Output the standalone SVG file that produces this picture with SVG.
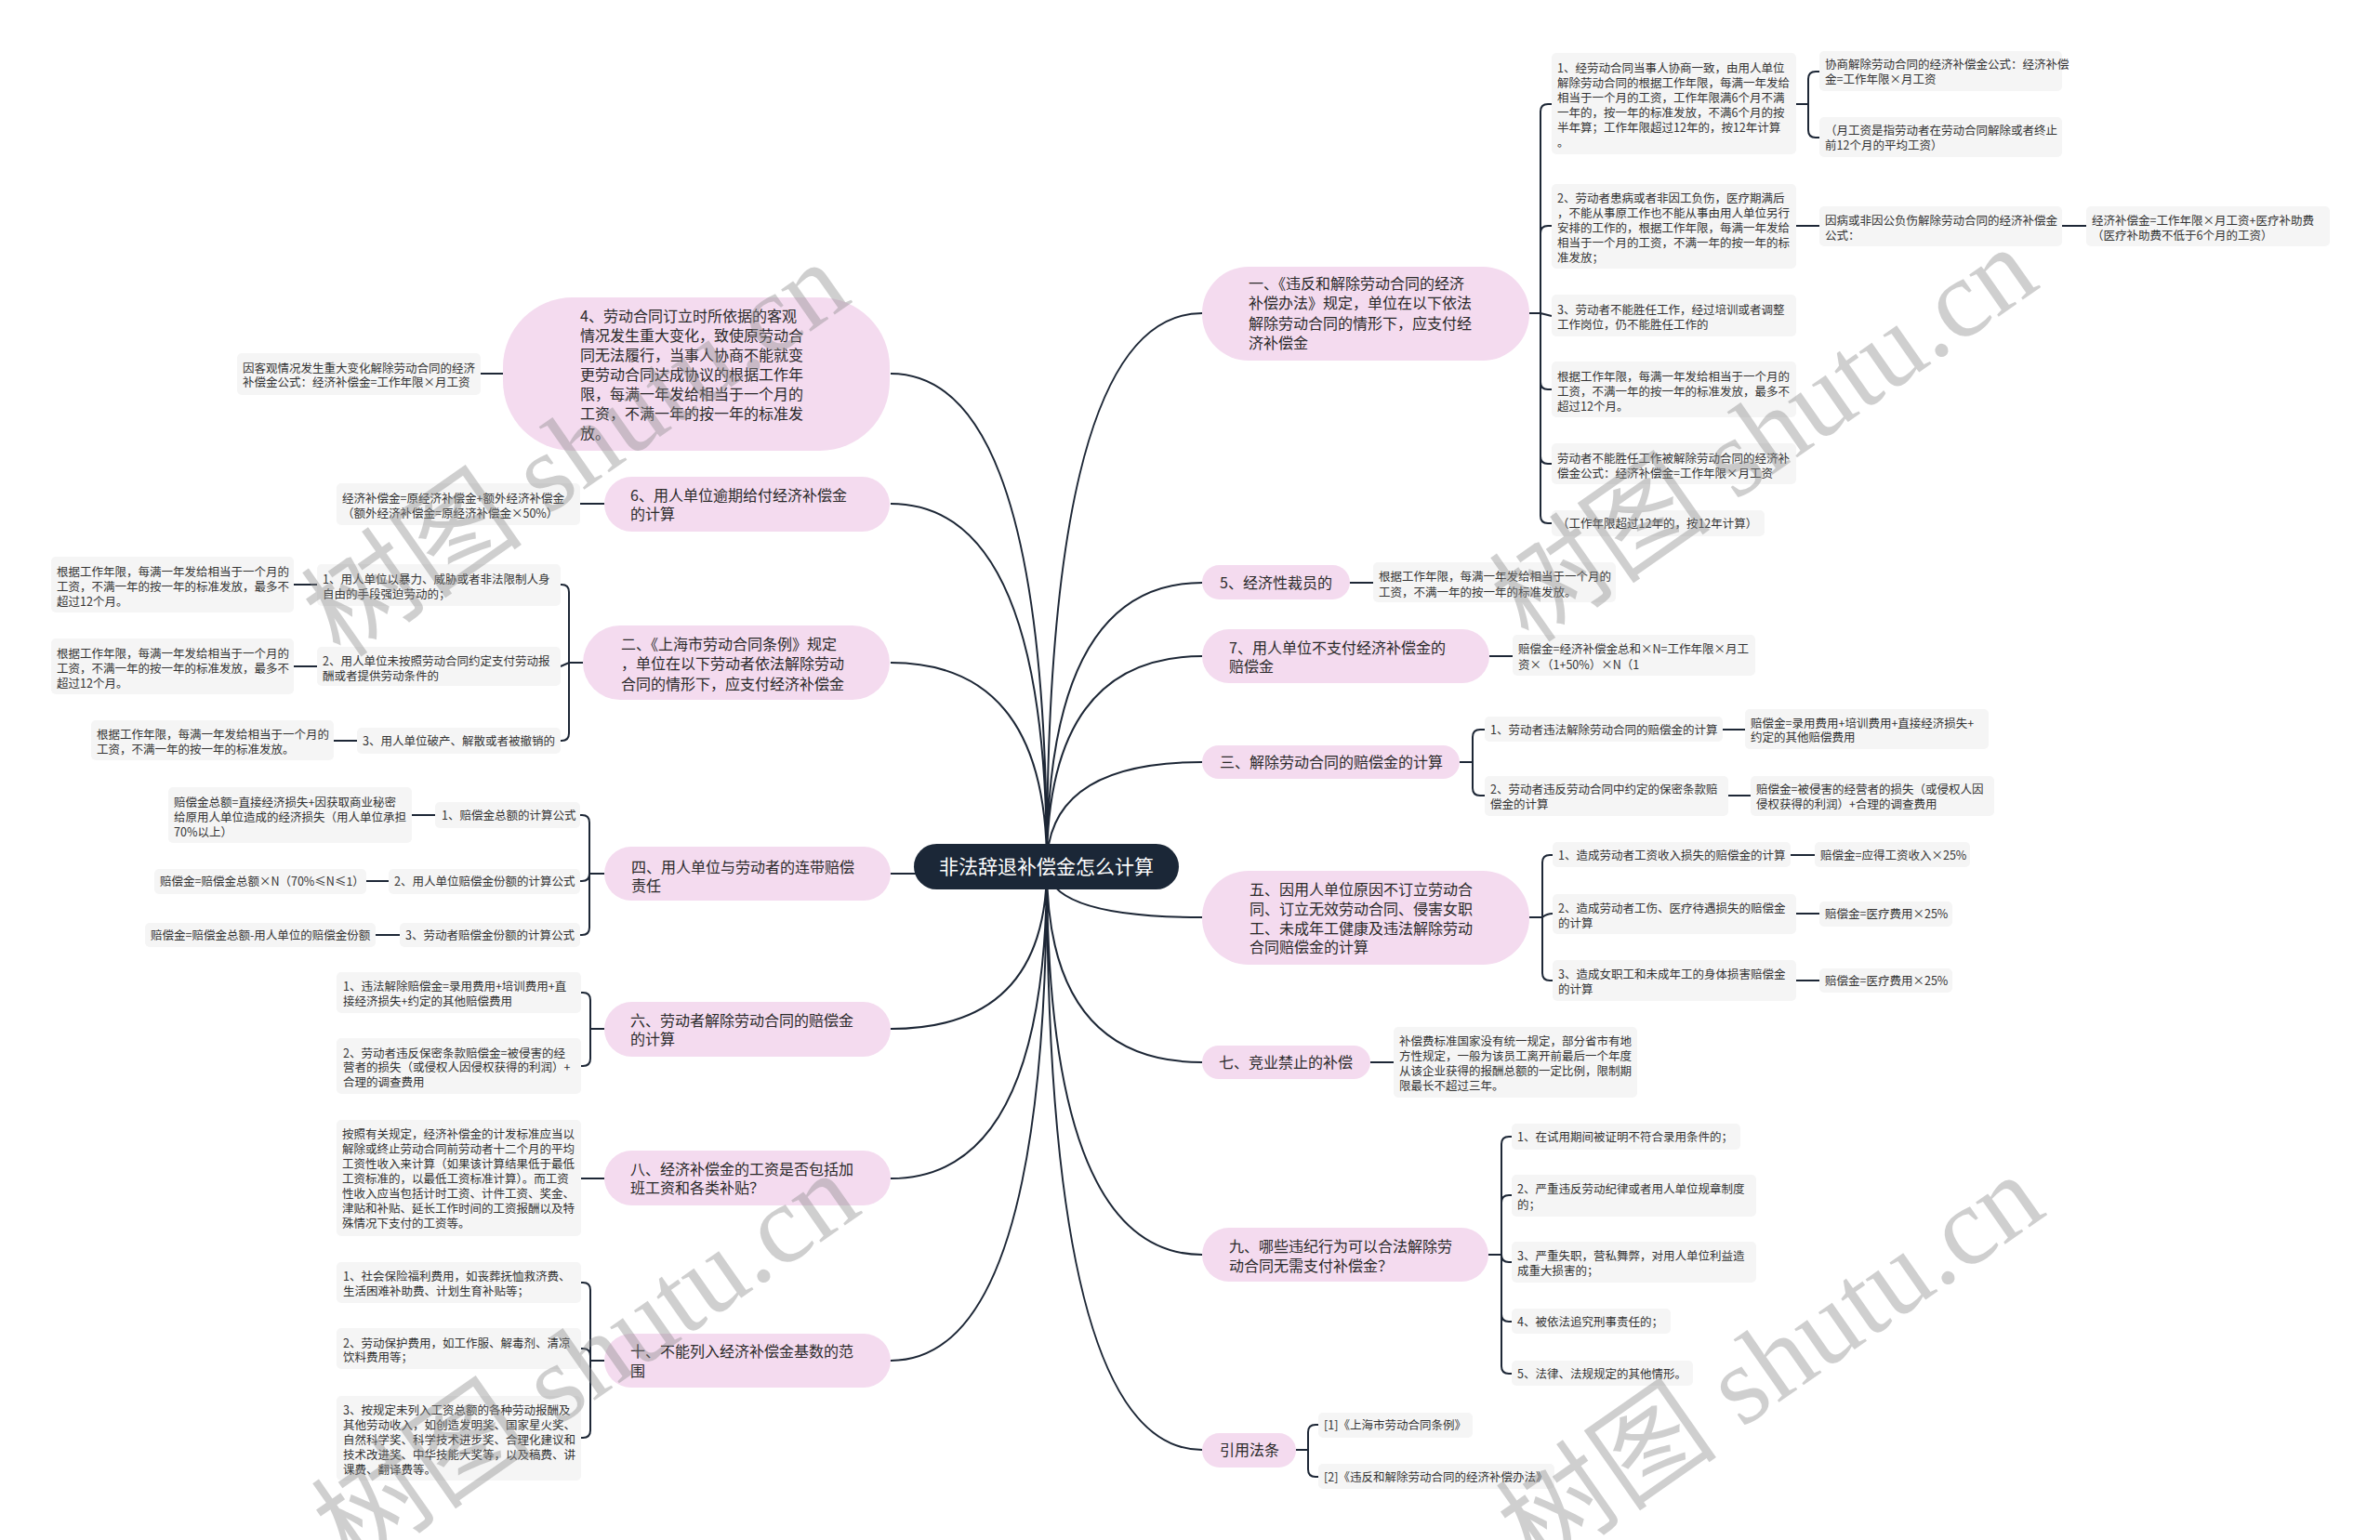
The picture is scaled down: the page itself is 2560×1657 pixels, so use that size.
<svg xmlns="http://www.w3.org/2000/svg" width="2560" height="1657" viewBox="0 0 2560 1657">
<style>
text{font-family:"Noto Sans CJK SC","Noto Sans",sans-serif;fill:#333}
.mn{fill:#f4dbef}
.lf{fill:#f5f5f5}
.t1{font-size:16px;fill:#2a2a2a}
.t2{font-size:12.5px}
.ln{fill:none;stroke:#1d2736;stroke-width:2}
.wm{font-family:"Liberation Serif","Noto Sans CJK SC",serif;font-size:120px;fill:#8a8a8a;opacity:0.4}
</style>
<rect width="2560" height="1657" fill="#ffffff"/>
<g id="connectors" class="ln">
<path d="M1126 932Q1126 337 1293 337M1126 932Q1126 627 1293 627M1126 932Q1126 706 1293 706M1126 932Q1126 820 1293 820M1126 932Q1126 987 1293 987M1126 932Q1126 1143 1293 1143M1126 932Q1126 1350 1293 1350M1126 932Q1126 1560 1293 1560"/>
<path d="M1126 932Q1126 402 958 402M1126 932Q1126 542 958 542M1126 932Q1126 713 958 713M1126 932Q1126 940 958 940M1126 932Q1126 1107 958 1107M1126 932Q1126 1268 958 1268M1126 932Q1126 1464 958 1464"/>
<path d="M1645 337H1657V120Q1657 112 1665 112H1669M1645 337H1657V251Q1657 243 1665 243H1669M1645 337H1657L1669 340M1645 337H1657V411Q1657 419 1665 419H1669M1645 337H1657V491Q1657 499 1665 499H1669M1645 337H1657V555Q1657 563 1665 563H1669"/>
<path d="M1932 112H1945V85Q1945 77 1953 77H1957M1932 112H1945V140Q1945 148 1953 148H1957M1932 243H1957M2218 243H2244M1452 627H1477M1602 706H1627"/>
<path d="M1570 820H1584V793Q1584 785 1592 785H1597M1570 820H1584V848Q1584 856 1592 856H1597M1853 785H1877M1859 856H1883"/>
<path d="M1645 987H1659V928Q1659 920 1667 920H1670M1645 987H1659Q1664 983 1670 983M1645 987H1659V1047Q1659 1055 1667 1055H1670M1926 920H1952M1932 983H1957M1932 1055H1957"/>
<path d="M1474 1143H1499"/>
<path d="M1601 1350H1615V1231Q1615 1223 1623 1223H1626M1601 1350H1615V1294Q1615 1286 1623 1286H1626M1601 1350H1615Q1615 1358 1623 1358H1626M1601 1350H1615V1414Q1615 1422 1623 1422H1626M1601 1350H1615V1470Q1615 1478 1623 1478H1626"/>
<path d="M1394 1560H1407V1541Q1407 1533 1415 1533H1418M1394 1560H1407V1581Q1407 1589 1415 1589H1418"/>
<path d="M541 402H517M650 542H624"/>
<path d="M627 713H612V637Q612 629 604 629H603M627 713H612L603 717M627 713H612V789Q612 797 604 797H603M341 629H316M341 717H316M384 797H359"/>
<path d="M650 940H634V885Q634 877 626 877H624M650 940H634Q634 948 626 948H624M650 940H634V998Q634 1006 626 1006H624M468 877H443M418 948H394M430 1006H404"/>
<path d="M650 1107H635V1076Q635 1068 627 1068H625M650 1107H635V1139Q635 1147 627 1147H625M650 1268H625"/>
<path d="M650 1464H635V1388Q635 1380 627 1380H625M650 1464H635V1459Q635 1451 627 1451H625M650 1464H635V1539Q635 1547 627 1547H625"/>
</g>

<g id="root">
<rect x="983" y="908" width="285" height="49" rx="24.5" fill="#1b2737"/>
<text x="1125.5" y="940" text-anchor="middle" style="font-size:21px;fill:#ffffff">非法辞退补偿金怎么计算</text>
</g>

<g id="n1">
<rect class="mn" x="1293" y="287" width="352" height="101" rx="50"/>
<text class="t1"><tspan x="1343" y="310.5">一、《违反和解除劳动合同的经济</tspan><tspan x="1343" y="332">补偿办法》规定，单位在以下依法</tspan><tspan x="1343" y="353.5">解除劳动合同的情形下，应支付经</tspan><tspan x="1343" y="375">济补偿金</tspan></text>
</g>
<g id="n1-1">
<rect class="lf" x="1669" y="57" width="263" height="109" rx="5"/>
<text class="t2"><tspan x="1675" y="78">1、经劳动合同当事人协商一致，由用人单位</tspan><tspan x="1675" y="94">解除劳动合同的根据工作年限，每满一年发给</tspan><tspan x="1675" y="110">相当于一个月的工资，工作年限满6个月不满</tspan><tspan x="1675" y="126">一年的，按一年的标准发放，不满6个月的按</tspan><tspan x="1675" y="142">半年算；工作年限超过12年的，按12年计算</tspan><tspan x="1675" y="158">。</tspan></text>
</g>
<g id="n1-1a">
<rect class="lf" x="1957" y="55" width="261" height="43" rx="5"/>
<text class="t2"><tspan x="1963" y="74">协商解除劳动合同的经济补偿金公式：经济补偿</tspan><tspan x="1963" y="90">金=工作年限×月工资</tspan></text>
</g>
<g id="n1-1b">
<rect class="lf" x="1957" y="126" width="261" height="43" rx="5"/>
<text class="t2"><tspan x="1963" y="145">（月工资是指劳动者在劳动合同解除或者终止</tspan><tspan x="1963" y="161">前12个月的平均工资）</tspan></text>
</g>
<g id="n1-2">
<rect class="lf" x="1669" y="198" width="263" height="91" rx="5"/>
<text class="t2"><tspan x="1675" y="218">2、劳动者患病或者非因工负伤，医疗期满后</tspan><tspan x="1675" y="234">，不能从事原工作也不能从事由用人单位另行</tspan><tspan x="1675" y="250">安排的工作的，根据工作年限，每满一年发给</tspan><tspan x="1675" y="266">相当于一个月的工资，不满一年的按一年的标</tspan><tspan x="1675" y="282">准发放；</tspan></text>
</g>
<g id="n1-2a">
<rect class="lf" x="1957" y="222" width="261" height="43" rx="5"/>
<text class="t2"><tspan x="1963" y="241.5">因病或非因公负伤解除劳动合同的经济补偿金</tspan><tspan x="1963" y="257.5">公式：</tspan></text>
</g>
<g id="n1-2b">
<rect class="lf" x="2244" y="222" width="262" height="43" rx="5"/>
<text class="t2"><tspan x="2250" y="241.5">经济补偿金=工作年限×月工资+医疗补助费</tspan><tspan x="2250" y="257.5">（医疗补助费不低于6个月的工资）</tspan></text>
</g>
<g id="n1-3">
<rect class="lf" x="1669" y="317" width="263" height="45" rx="5"/>
<text class="t2"><tspan x="1675" y="337.5">3、劳动者不能胜任工作，经过培训或者调整</tspan><tspan x="1675" y="353.5">工作岗位，仍不能胜任工作的</tspan></text>
</g>
<g id="n1-4">
<rect class="lf" x="1669" y="389" width="263" height="60" rx="5"/>
<text class="t2"><tspan x="1675" y="410">根据工作年限，每满一年发给相当于一个月的</tspan><tspan x="1675" y="426">工资，不满一年的按一年的标准发放，最多不</tspan><tspan x="1675" y="442">超过12个月。</tspan></text>
</g>
<g id="n1-5">
<rect class="lf" x="1669" y="477" width="263" height="44" rx="5"/>
<text class="t2"><tspan x="1675" y="498">劳动者不能胜任工作被解除劳动合同的经济补</tspan><tspan x="1675" y="514">偿金公式：经济补偿金=工作年限×月工资</tspan></text>
</g>
<g id="n1-6">
<rect class="lf" x="1669" y="549" width="229" height="28" rx="5"/>
<text class="t2" x="1675" y="568">（工作年限超过12年的，按12年计算）</text>
</g>

<g id="n5">
<rect class="mn" x="1293" y="608" width="159" height="37" rx="18.5"/>
<text class="t1" x="1312" y="632.5">5、经济性裁员的</text>
</g>
<g id="n5-1">
<rect class="lf" x="1477" y="605" width="261" height="43" rx="5"/>
<text class="t2"><tspan x="1483" y="624.5">根据工作年限，每满一年发给相当于一个月的</tspan><tspan x="1483" y="641.5">工资，不满一年的按一年的标准发放。</tspan></text>
</g>
<g id="n7">
<rect class="mn" x="1293" y="677" width="309" height="58" rx="29"/>
<text class="t1"><tspan x="1322" y="702.5">7、用人单位不支付经济补偿金的</tspan><tspan x="1322" y="722.5">赔偿金</tspan></text>
</g>
<g id="n7-1">
<rect class="lf" x="1627" y="683" width="261" height="44" rx="5"/>
<text class="t2"><tspan x="1633" y="702.5">赔偿金=经济补偿金总和×N=工作年限×月工</tspan><tspan x="1633" y="719.5">资×（1+50%）×N（1</tspan></text>
</g>

<g id="n3">
<rect class="mn" x="1293" y="802" width="277" height="36" rx="18"/>
<text class="t1" x="1312" y="825.5">三、解除劳动合同的赔偿金的计算</text>
</g>
<g id="n3-1">
<rect class="lf" x="1597" y="771" width="256" height="27" rx="5"/>
<text class="t2" x="1603" y="789.5">1、劳动者违法解除劳动合同的赔偿金的计算</text>
</g>
<g id="n3-1a">
<rect class="lf" x="1877" y="763" width="262" height="43" rx="5"/>
<text class="t2"><tspan x="1883" y="782.5">赔偿金=录用费用+培训费用+直接经济损失+</tspan><tspan x="1883" y="798">约定的其他赔偿费用</tspan></text>
</g>
<g id="n3-2">
<rect class="lf" x="1597" y="835" width="262" height="43" rx="5"/>
<text class="t2"><tspan x="1603" y="853.5">2、劳动者违反劳动合同中约定的保密条款赔</tspan><tspan x="1603" y="870">偿金的计算</tspan></text>
</g>
<g id="n3-2a">
<rect class="lf" x="1883" y="835" width="262" height="43" rx="5"/>
<text class="t2"><tspan x="1889" y="853.5">赔偿金=被侵害的经营者的损失（或侵权人因</tspan><tspan x="1889" y="870">侵权获得的利润）+合理的调查费用</tspan></text>
</g>

<g id="n5b">
<rect class="mn" x="1293" y="937" width="352" height="101" rx="50"/>
<text class="t1"><tspan x="1344" y="962.5">五、因用人单位原因不订立劳动合</tspan><tspan x="1344" y="983.5">同、订立无效劳动合同、侵害女职</tspan><tspan x="1344" y="1004.5">工、未成年工健康及违法解除劳动</tspan><tspan x="1344" y="1025">合同赔偿金的计算</tspan></text>
</g>
<g id="n5b-1">
<rect class="lf" x="1670" y="906" width="256" height="27" rx="5"/>
<text class="t2" x="1676" y="924.5">1、造成劳动者工资收入损失的赔偿金的计算</text>
</g>
<g id="n5b-1a">
<rect class="lf" x="1952" y="906" width="167" height="27" rx="5"/>
<text class="t2" x="1958" y="924.5">赔偿金=应得工资收入×25%</text>
</g>
<g id="n5b-2">
<rect class="lf" x="1670" y="962" width="262" height="43" rx="5"/>
<text class="t2"><tspan x="1676" y="981.5">2、造成劳动者工伤、医疗待遇损失的赔偿金</tspan><tspan x="1676" y="997.5">的计算</tspan></text>
</g>
<g id="n5b-2a">
<rect class="lf" x="1957" y="970" width="143" height="27" rx="5"/>
<text class="t2" x="1963" y="988">赔偿金=医疗费用×25%</text>
</g>
<g id="n5b-3">
<rect class="lf" x="1670" y="1033" width="262" height="44" rx="5"/>
<text class="t2"><tspan x="1676" y="1052.5">3、造成女职工和未成年工的身体损害赔偿金</tspan><tspan x="1676" y="1068.5">的计算</tspan></text>
</g>
<g id="n5b-3a">
<rect class="lf" x="1957" y="1042" width="143" height="26" rx="5"/>
<text class="t2" x="1963" y="1059.5">赔偿金=医疗费用×25%</text>
</g>

<g id="n7b">
<rect class="mn" x="1293" y="1125" width="181" height="36" rx="18"/>
<text class="t1" x="1311" y="1148.5">七、竞业禁止的补偿</text>
</g>
<g id="n7b-1">
<rect class="lf" x="1499" y="1105" width="262" height="76" rx="5"/>
<text class="t2"><tspan x="1505" y="1124.5">补偿费标准国家没有统一规定，部分省市有地</tspan><tspan x="1505" y="1140.5">方性规定，一般为该员工离开前最后一个年度</tspan><tspan x="1505" y="1156.5">从该企业获得的报酬总额的一定比例，限制期</tspan><tspan x="1505" y="1172.5">限最长不超过三年。</tspan></text>
</g>

<g id="n9">
<rect class="mn" x="1293" y="1321" width="308" height="58" rx="29"/>
<text class="t1"><tspan x="1322" y="1346.5">九、哪些违纪行为可以合法解除劳</tspan><tspan x="1322" y="1367.5">动合同无需支付补偿金？</tspan></text>
</g>
<g id="n9-1">
<rect class="lf" x="1626" y="1209" width="246" height="28" rx="5"/>
<text class="t2" x="1632" y="1227.5">1、在试用期间被证明不符合录用条件的；</text>
</g>
<g id="n9-2">
<rect class="lf" x="1626" y="1264" width="263" height="45" rx="5"/>
<text class="t2"><tspan x="1632" y="1283.5">2、严重违反劳动纪律或者用人单位规章制度</tspan><tspan x="1632" y="1300.5">的；</tspan></text>
</g>
<g id="n9-3">
<rect class="lf" x="1626" y="1336" width="263" height="44" rx="5"/>
<text class="t2"><tspan x="1632" y="1355.5">3、严重失职，营私舞弊，对用人单位利益造</tspan><tspan x="1632" y="1371.5">成重大损害的；</tspan></text>
</g>
<g id="n9-4">
<rect class="lf" x="1626" y="1408" width="171" height="27" rx="5"/>
<text class="t2" x="1632" y="1426.5">4、被依法追究刑事责任的；</text>
</g>
<g id="n9-5">
<rect class="lf" x="1626" y="1464" width="195" height="27" rx="5"/>
<text class="t2" x="1632" y="1482.5">5、法律、法规规定的其他情形。</text>
</g>

<g id="nref">
<rect class="mn" x="1293" y="1542" width="101" height="37" rx="18.5"/>
<text class="t1" x="1312" y="1565.5">引用法条</text>
</g>
<g id="nref-1">
<rect class="lf" x="1418" y="1520" width="166" height="27" rx="5"/>
<text class="t2" x="1424" y="1537.5">[1]《上海市劳动合同条例》</text>
</g>
<g id="nref-2">
<rect class="lf" x="1418" y="1575" width="254" height="27" rx="5"/>
<text class="t2" x="1424" y="1593.5">[2]《违反和解除劳动合同的经济补偿办法》</text>
</g>

<g id="n4">
<rect class="mn" x="541" y="320" width="416" height="165" rx="75"/>
<text class="t1"><tspan x="624" y="345.5">4、劳动合同订立时所依据的客观</tspan><tspan x="624" y="366.5">情况发生重大变化，致使原劳动合</tspan><tspan x="624" y="387.5">同无法履行，当事人协商不能就变</tspan><tspan x="624" y="408.5">更劳动合同达成协议的根据工作年</tspan><tspan x="624" y="429.5">限，每满一年发给相当于一个月的</tspan><tspan x="624" y="450.5">工资，不满一年的按一年的标准发</tspan><tspan x="624" y="471.5">放。</tspan></text>
</g>
<g id="n4-1">
<rect class="lf" x="255" y="380" width="262" height="45" rx="5"/>
<text class="t2"><tspan x="261" y="400.5">因客观情况发生重大变化解除劳动合同的经济</tspan><tspan x="261" y="416">补偿金公式：经济补偿金=工作年限×月工资</tspan></text>
</g>
<g id="n6">
<rect class="mn" x="650" y="513" width="307" height="59" rx="29.5"/>
<text class="t1"><tspan x="678" y="538.5">6、用人单位逾期给付经济补偿金</tspan><tspan x="678" y="558.5">的计算</tspan></text>
</g>
<g id="n6-1">
<rect class="lf" x="362" y="520" width="262" height="45" rx="5"/>
<text class="t2"><tspan x="368" y="540.5">经济补偿金=原经济补偿金+额外经济补偿金</tspan><tspan x="368" y="556.5">（额外经济补偿金=原经济补偿金×50%）</tspan></text>
</g>

<g id="n2">
<rect class="mn" x="627" y="673" width="330" height="80" rx="40"/>
<text class="t1"><tspan x="668" y="698.5">二、《上海市劳动合同条例》规定</tspan><tspan x="668" y="720">，单位在以下劳动者依法解除劳动</tspan><tspan x="668" y="741.5">合同的情形下，应支付经济补偿金</tspan></text>
</g>
<g id="n2-1">
<rect class="lf" x="341" y="607" width="262" height="45" rx="5"/>
<text class="t2"><tspan x="347" y="627.5">1、用人单位以暴力、威胁或者非法限制人身</tspan><tspan x="347" y="643.5">自由的手段强迫劳动的；</tspan></text>
</g>
<g id="n2-1a">
<rect class="lf" x="55" y="599" width="261" height="60" rx="5"/>
<text class="t2"><tspan x="61" y="620">根据工作年限，每满一年发给相当于一个月的</tspan><tspan x="61" y="636">工资，不满一年的按一年的标准发放，最多不</tspan><tspan x="61" y="652">超过12个月。</tspan></text>
</g>
<g id="n2-2">
<rect class="lf" x="341" y="696" width="262" height="42" rx="5"/>
<text class="t2"><tspan x="347" y="715.5">2、用人单位未按照劳动合同约定支付劳动报</tspan><tspan x="347" y="731.5">酬或者提供劳动条件的</tspan></text>
</g>
<g id="n2-2a">
<rect class="lf" x="55" y="687" width="261" height="60" rx="5"/>
<text class="t2"><tspan x="61" y="708">根据工作年限，每满一年发给相当于一个月的</tspan><tspan x="61" y="724">工资，不满一年的按一年的标准发放，最多不</tspan><tspan x="61" y="740">超过12个月。</tspan></text>
</g>
<g id="n2-3">
<rect class="lf" x="384" y="783" width="219" height="28" rx="5"/>
<text class="t2" x="390" y="801.5">3、用人单位破产、解散或者被撤销的</text>
</g>
<g id="n2-3a">
<rect class="lf" x="98" y="775" width="261" height="43" rx="5"/>
<text class="t2"><tspan x="104" y="794.5">根据工作年限，每满一年发给相当于一个月的</tspan><tspan x="104" y="811">工资，不满一年的按一年的标准发放。</tspan></text>
</g>

<g id="n4b">
<rect class="mn" x="650" y="911" width="308" height="58" rx="29"/>
<text class="t1"><tspan x="679" y="938.5">四、用人单位与劳动者的连带赔偿</tspan><tspan x="679" y="958.5">责任</tspan></text>
</g>
<g id="n4b-1">
<rect class="lf" x="468" y="863" width="156" height="28" rx="5"/>
<text class="t2" x="475" y="881.5">1、赔偿金总额的计算公式</text>
</g>
<g id="n4b-1a">
<rect class="lf" x="181" y="847" width="262" height="60" rx="5"/>
<text class="t2"><tspan x="187" y="867.5">赔偿金总额=直接经济损失+因获取商业秘密</tspan><tspan x="187" y="883.5">给原用人单位造成的经济损失（用人单位承担</tspan><tspan x="187" y="899.5">70%以上）</tspan></text>
</g>
<g id="n4b-2">
<rect class="lf" x="418" y="935" width="206" height="27" rx="5"/>
<text class="t2" x="424" y="952.5">2、用人单位赔偿金份额的计算公式</text>
</g>
<g id="n4b-2a">
<rect class="lf" x="166" y="935" width="228" height="27" rx="5"/>
<text class="t2" x="172" y="952.5">赔偿金=赔偿金总额×N（70%≤N≤1）</text>
</g>
<g id="n4b-3">
<rect class="lf" x="430" y="993" width="194" height="26" rx="5"/>
<text class="t2" x="436" y="1010.5">3、劳动者赔偿金份额的计算公式</text>
</g>
<g id="n4b-3a">
<rect class="lf" x="156" y="993" width="248" height="26" rx="5"/>
<text class="t2" x="162" y="1010.5">赔偿金=赔偿金总额-用人单位的赔偿金份额</text>
</g>

<g id="n6b">
<rect class="mn" x="650" y="1078" width="308" height="59" rx="29.5"/>
<text class="t1"><tspan x="678" y="1103.5">六、劳动者解除劳动合同的赔偿金</tspan><tspan x="678" y="1123.5">的计算</tspan></text>
</g>
<g id="n6b-1">
<rect class="lf" x="362" y="1046" width="263" height="44" rx="5"/>
<text class="t2"><tspan x="369" y="1065.5">1、违法解除赔偿金=录用费用+培训费用+直</tspan><tspan x="369" y="1081.5">接经济损失+约定的其他赔偿费用</tspan></text>
</g>
<g id="n6b-2">
<rect class="lf" x="362" y="1117" width="263" height="60" rx="5"/>
<text class="t2"><tspan x="369" y="1137.5">2、劳动者违反保密条款赔偿金=被侵害的经</tspan><tspan x="369" y="1153">营者的损失（或侵权人因侵权获得的利润）+</tspan><tspan x="369" y="1168.5">合理的调查费用</tspan></text>
</g>

<g id="n8">
<rect class="mn" x="650" y="1238" width="308" height="59" rx="29.5"/>
<text class="t1"><tspan x="678" y="1263.5">八、经济补偿金的工资是否包括加</tspan><tspan x="678" y="1283.5">班工资和各类补贴？</tspan></text>
</g>
<g id="n8-1">
<rect class="lf" x="362" y="1205" width="263" height="125" rx="5"/>
<text class="t2"><tspan x="368" y="1224.5">按照有关规定，经济补偿金的计发标准应当以</tspan><tspan x="368" y="1240.5">解除或终止劳动合同前劳动者十二个月的平均</tspan><tspan x="368" y="1256.5">工资性收入来计算（如果该计算结果低于最低</tspan><tspan x="368" y="1272.5">工资标准的，以最低工资标准计算）。而工资</tspan><tspan x="368" y="1288.5">性收入应当包括计时工资、计件工资、奖金、</tspan><tspan x="368" y="1304.5">津贴和补贴、延长工作时间的工资报酬以及特</tspan><tspan x="368" y="1320.5">殊情况下支付的工资等。</tspan></text>
</g>

<g id="n10">
<rect class="mn" x="650" y="1435" width="308" height="58" rx="29"/>
<text class="t1"><tspan x="678" y="1459.5">十、不能列入经济补偿金基数的范</tspan><tspan x="678" y="1480.5">围</tspan></text>
</g>
<g id="n10-1">
<rect class="lf" x="362" y="1358" width="263" height="44" rx="5"/>
<text class="t2"><tspan x="369" y="1377.5">1、社会保险福利费用，如丧葬抚恤救济费、</tspan><tspan x="369" y="1393.5">生活困难补助费、计划生育补贴等；</tspan></text>
</g>
<g id="n10-2">
<rect class="lf" x="362" y="1429" width="263" height="44" rx="5"/>
<text class="t2"><tspan x="369" y="1449.5">2、劳动保护费用，如工作服、解毒剂、清凉</tspan><tspan x="369" y="1465">饮料费用等；</tspan></text>
</g>
<g id="n10-3">
<rect class="lf" x="362" y="1502" width="263" height="91" rx="5"/>
<text class="t2"><tspan x="369" y="1521.5">3、按规定未列入工资总额的各种劳动报酬及</tspan><tspan x="369" y="1537.5">其他劳动收入，如创造发明奖、国家星火奖、</tspan><tspan x="369" y="1553.5">自然科学奖、科学技术进步奖、合理化建议和</tspan><tspan x="369" y="1569.5">技术改进奖、中华技能大奖等，以及稿费、讲</tspan><tspan x="369" y="1585.5">课费、翻译费等。</tspan></text>
</g>

<g id="watermarks">
<text class="wm" transform="translate(367 710) rotate(-35)">树图 shutu.cn</text>
<text class="wm" transform="translate(1645 694) rotate(-35)">树图 shutu.cn</text>
<text class="wm" transform="translate(378 1690) rotate(-35)">树图 shutu.cn</text>
<text class="wm" transform="translate(1652 1692) rotate(-35)">树图 shutu.cn</text>
</g>
</svg>
